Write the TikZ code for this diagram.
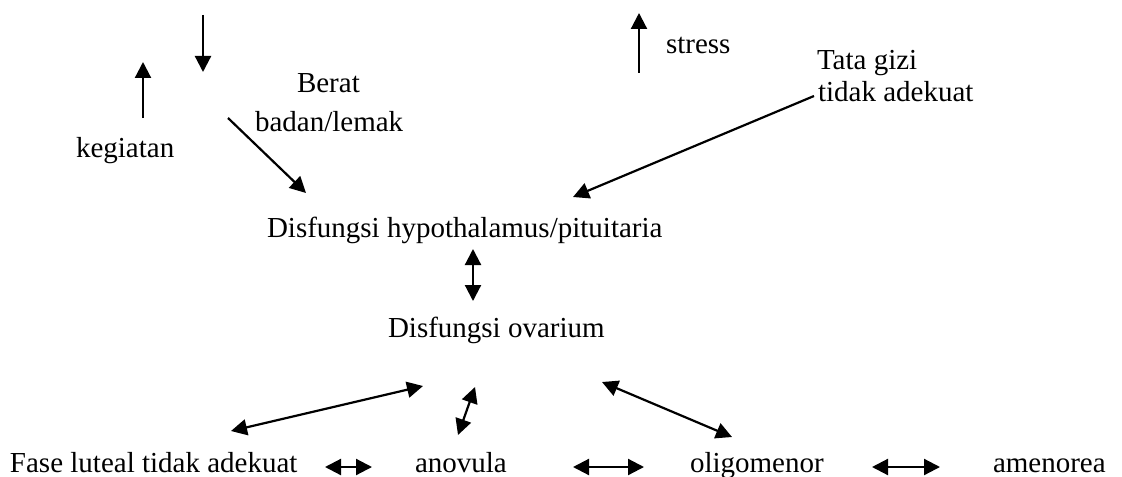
\documentclass[tikz,border=0pt]{standalone}
\usepackage{fontspec}
\setmainfont{Liberation Serif}
\usepackage{tikz}
\usetikzlibrary{arrows.meta,positioning}

\begin{document}
\begin{tikzpicture}[
    x=0.5pt, y=-0.5pt,
    font=\fontsize{14.5}{17}\selectfont,
    lbl/.style={anchor=base west, inner sep=0pt, outer sep=0pt},
    arr/.style={-{Triangle[length=8pt, width=8pt]}, line width=1.1pt},
    darr/.style={{Triangle[length=8pt, width=8pt]}-{Triangle[length=8pt, width=8pt]}, line width=1.1pt}
]
\useasboundingbox (0,0) rectangle (1122,476);

% factors above
\node[lbl] (keg) at (76,157) {kegiatan};
\node[lbl] (berat) at (297,92) {Berat};
\node[lbl] (badan) at (255,131) {badan/lemak};
\node[lbl] (stress) at (666,54) {stress};
\node[lbl] (tata) at (817,69) {Tata gizi};
\node[lbl] (tidak) at (818,102) {tidak adekuat};

% centre
\node[lbl] (hypo) at (267,237) {Disfungsi hypothalamus/pituitaria};
\node[lbl] (ovar) at (388,337) {Disfungsi ovarium};

% bottom row
\node[lbl] (fase) at (10,472) {Fase luteal tidak adekuat};
\node[lbl] (anov) at (415,472) {anovula};
\node[lbl] (oligo) at (690,472) {oligomenor};
\node[lbl] (amen) at (993,472) {amenorea};

% arrow ends
\coordinate (kegA) at (143,118);  \coordinate (kegB) at (143,62);
\coordinate (dwnA) at (203,15);   \coordinate (dwnB) at (203,72);
\coordinate (strA) at (639,73);   \coordinate (strB) at (639,13);
\coordinate (badA) at (228,118);  \coordinate (badB) at (306,193);
\coordinate (tatA) at (814,96);   \coordinate (tatB) at (573,197);
\coordinate (hypA) at (473,249);  \coordinate (hypB) at (473,301);
\coordinate (fasA) at (423,386);  \coordinate (fasB) at (231,431);
\coordinate (anoA) at (475,387);  \coordinate (anoB) at (458,435);
\coordinate (oliA) at (602,382);  \coordinate (oliB) at (732,437);
\coordinate (h1A) at (325,467);   \coordinate (h1B) at (372,467);
\coordinate (h2A) at (573,467);   \coordinate (h2B) at (644,467);
\coordinate (h3A) at (872,467);   \coordinate (h3B) at (940,467);

\foreach \a/\b in {kegA/kegB,dwnA/dwnB,strA/strB,badA/badB,tatA/tatB}{\draw[arr] (\a) -- (\b);}
\foreach \a/\b in {hypA/hypB,fasA/fasB,anoA/anoB,oliA/oliB,h1A/h1B,h2A/h2B,h3A/h3B}{\draw[darr] (\a) -- (\b);}
\end{tikzpicture}
\end{document}
